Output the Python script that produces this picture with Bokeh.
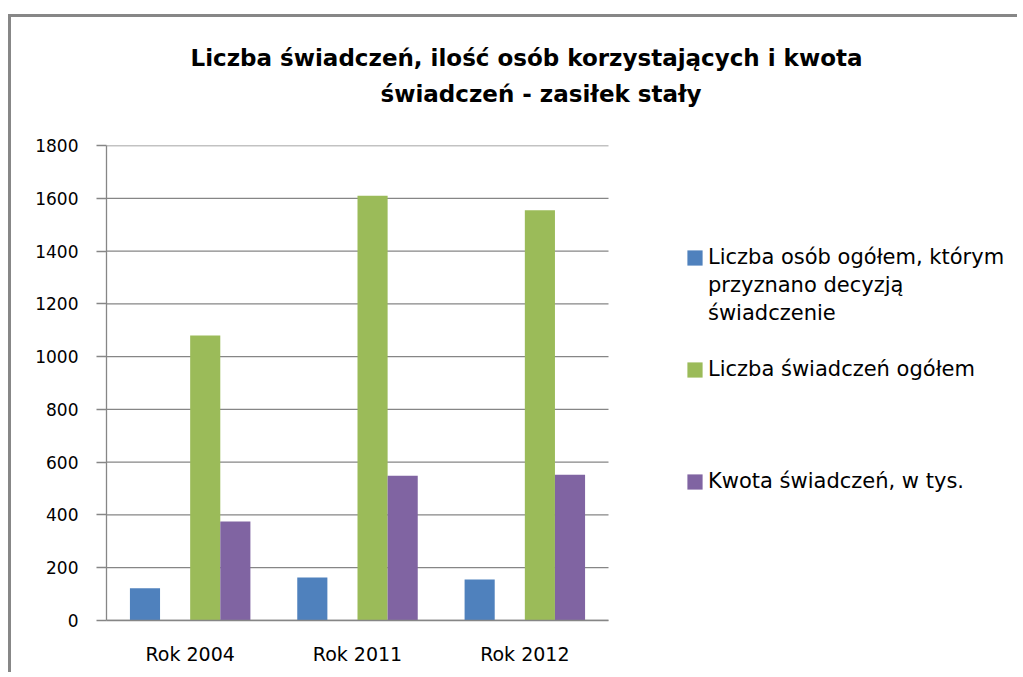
from bokeh.plotting import figure
from bokeh.models import (Range1d, Legend, LegendItem, Title,
                          ColumnDataSource, FixedTicker)
from bokeh.transform import dodge
from bokeh.embed import file_html
from bokeh.resources import INLINE

categories = ["Rok 2004", "Rok 2011", "Rok 2012"]
osoby = [122, 163, 155]
swiadczenia = [1080, 1610, 1555]
kwota = [375, 549, 552]
label_osoby = ["Liczba osób ogółem, którym", "przyznano decyzją", "świadczenie"]
label_swiadczenia = "Liczba świadczeń ogółem"
label_kwota = "Kwota świadczeń, w tys."
title_lines = ["Liczba świadczeń, ilość osób korzystających i kwota",
               "świadczeń - zasiłek stały"]
y_ticks = [0, 200, 400, 600, 800, 1000, 1200, 1400, 1600, 1800]

BLUE = "#4F81BD"
GREEN = "#9BBB59"
PURPLE = "#8064A2"
GRID = "#868686"
FONT = "DejaVu Sans"

# layout (pixels)
WIDTH, HEIGHT = 1009, 658
BORDER_LEFT, BORDER_BOTTOM, BORDER_TOP = 95, 55, 128
PLOT_AREA_W = 502                      # width of the category area
FRAME_W = WIDTH - BORDER_LEFT          # frame also hosts the legend
n_cat = len(categories)
x_end = n_cat * FRAME_W / PLOT_AREA_W

pos = [i + 0.5 for i in range(n_cat)]
src = ColumnDataSource(dict(pos=pos, cat=categories, osoby=osoby,
                            swiadczenia=swiadczenia, kwota=kwota))

p = figure(x_range=Range1d(0, x_end), y_range=Range1d(0, 1800),
           width=WIDTH, height=HEIGHT,
           output_backend="svg", toolbar_location=None,
           min_border_left=BORDER_LEFT, min_border_right=0,
           min_border_top=BORDER_TOP, min_border_bottom=BORDER_BOTTOM)

p.styles = {"border-left": "3px solid #878787",
            "border-top": "3px solid #878787",
            "margin-top": "14px",
            "margin-left": "8px"}

# horizontal gridlines limited to the category area
p.segment(x0=0, x1=n_cat, y0=y_ticks, y1=y_ticks,
          line_color=GRID, line_width=1.3)

r1 = p.vbar(x=dodge("pos", -0.27), top="osoby", width=0.18,
            source=src, fill_color=BLUE, line_color=None)
r2 = p.vbar(x=dodge("pos", 0.09), top="swiadczenia", width=0.18,
            source=src, fill_color=GREEN, line_color=None)
r3 = p.vbar(x=dodge("pos", 0.27), top="kwota", width=0.18,
            source=src, fill_color=PURPLE, line_color=None)
# invisible renderer used only for legend continuation lines / gaps
rb = p.vbar(x=[], top=[], width=0.18, fill_alpha=0, line_alpha=0)

p.outline_line_color = None
p.xgrid.grid_line_color = None
p.ygrid.grid_line_color = None

p.yaxis.ticker = FixedTicker(ticks=y_ticks)
p.yaxis.axis_line_color = GRID
p.yaxis.axis_line_width = 1.3
p.yaxis.major_tick_line_color = GRID
p.yaxis.major_tick_line_width = 1.3
p.yaxis.major_tick_out = 10
p.yaxis.major_tick_in = 0
p.yaxis.minor_tick_line_color = None
p.yaxis.major_label_standoff = 18
p.yaxis.major_label_text_font = FONT
p.yaxis.major_label_text_font_size = "17px"
p.yaxis.major_label_text_color = "#000000"

p.xaxis.ticker = FixedTicker(ticks=pos)
p.xaxis.major_label_overrides = {x: c for x, c in zip(pos, categories)}
p.xaxis.bounds = (0, n_cat)
p.xaxis.axis_line_color = GRID
p.xaxis.axis_line_width = 1.3
p.xaxis.major_tick_line_color = None
p.xaxis.major_tick_out = 0
p.xaxis.major_tick_in = 0
p.xaxis.minor_tick_line_color = None
p.xaxis.minor_tick_out = 0
p.xaxis.major_label_standoff = 22
p.xaxis.major_label_text_font = FONT
p.xaxis.major_label_text_font_size = "19px"
p.xaxis.major_label_text_color = "#000000"

# Title: spacer (nearest the plot), then line 2, then line 1
spacer = Title(text=" ", align="left", standoff=32,
               text_font=FONT, text_font_size="1px")
t2 = Title(text=title_lines[1], align="left", offset=274, standoff=8,
           text_font=FONT, text_font_size="23px", text_font_style="bold",
           text_color="#000000")
t1 = Title(text=title_lines[0], align="left", offset=84, standoff=8,
           text_font=FONT, text_font_size="23px", text_font_style="bold",
           text_color="#000000")
p.add_layout(spacer, "above")
p.add_layout(t2, "above")
p.add_layout(t1, "above")

items = [LegendItem(label=label_osoby[0], renderers=[r1]),
         LegendItem(label=label_osoby[1], renderers=[rb]),
         LegendItem(label=label_osoby[2], renderers=[rb]),
         LegendItem(label="", renderers=[rb]),
         LegendItem(label=label_swiadczenia, renderers=[r2]),
         LegendItem(label="", renderers=[rb]),
         LegendItem(label="", renderers=[rb]),
         LegendItem(label="", renderers=[rb]),
         LegendItem(label=label_kwota, renderers=[r3])]

legend = Legend(items=items,
                location=(579, 125), padding=0, margin=0, spacing=0,
                glyph_width=19, glyph_height=19, label_standoff=4,
                label_height=28,
                label_text_font=FONT, label_text_font_size="21px",
                label_text_color="#000000",
                border_line_color=None, background_fill_alpha=0)
p.add_layout(legend, "center")

open("out.html", "w").write(file_html(p, INLINE))
